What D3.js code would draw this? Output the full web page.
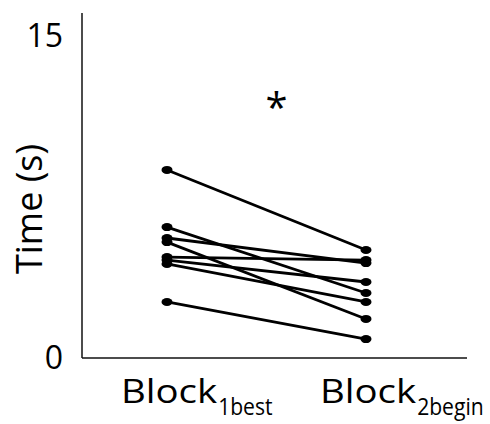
<!DOCTYPE html>
<html>
<head>
<meta charset="utf-8">
<script src="https://cdn.jsdelivr.net/npm/d3@7"></script>
<style>
  body { margin: 0; background: #fff; }
  text { font-family: "Open Sans", sans-serif; fill: #000; }
</style>
</head>
<body>
<div id="chart"></div>
<script>
// Data
const categories = ["Block1best", "Block2begin"];
const labelMain = ["Block", "Block"];
const labelSub = ["1best", "2begin"];
const block1best = [8.76, 6.10, 5.59, 5.40, 4.70, 4.56, 4.38, 2.61];
const block2begin = [5.03, 3.03, 4.42, 1.82, 4.56, 3.54, 2.61, 0.88];
const yTicks = [0, 15];
const yLabel = "Time (s)";
const sigMark = "*";

const width = 490, height = 424;

const svg = d3.select("#chart")
    .append("svg")
    .attr("width", width)
    .attr("height", height);

// scales
const x = d3.scalePoint().domain(categories).range([167, 366]);
const y = d3.scaleLinear().domain([0, 15]).range([358, 36]);
const axisX = 82, axisRight = 467;

// y axis (ticks only, line drawn by hand so it runs past 15)
const yAxis = svg.append("g")
    .attr("transform", `translate(${axisX},0)`)
    .call(d3.axisLeft(y).tickValues(yTicks).tickSize(0).tickPadding(19));
yAxis.select(".domain").remove();
yAxis.selectAll("text")
    .style("font-family", "'Open Sans', sans-serif")
    .style("font-size", "32px")
    .attr("fill", "#000");

svg.append("line")
    .attr("x1", axisX).attr("x2", axisX)
    .attr("y1", y(0)).attr("y2", y.range()[1] - 23)
    .attr("stroke", "#111").attr("stroke-width", 1.5);
svg.append("line")
    .attr("x1", axisX).attr("x2", axisRight)
    .attr("y1", y(0)).attr("y2", y(0))
    .attr("stroke", "#111").attr("stroke-width", 1.5);

// y label
svg.append("text")
    .attr("transform", `translate(42,${(y(0) + y(15)) / 2 + 12}) rotate(-90)`)
    .attr("text-anchor", "middle")
    .style("font-size", "37px")
    .attr("textLength", 130)
    .attr("lengthAdjust", "spacingAndGlyphs")
    .text(yLabel);

// x category labels: "Block" + subscript (squeezed/stretched with a scale transform)
categories.forEach((c, i) => {
    const start = x(c) - 46;
    const main = svg.append("text")
        .attr("transform", `translate(${start},403) scale(1.2,1)`)
        .style("font-size", "32px")
        .text(labelMain[i]);
    const mainLen = main.node().getComputedTextLength() * 1.2;

    const subX = start + mainLen + 1;
    const sub = svg.append("text")
        .style("font-size", "24px")
        .text(labelSub[i]);
    const natural = sub.node().getComputedTextLength();
    const sx = Math.min(0.88, (width - 4 - subX) / natural);
    sub.attr("transform", `translate(${subX},415) scale(${sx},1)`);
});

// paired lines
const pairs = block1best.map((v, i) => [
    { c: categories[0], v: v },
    { c: categories[1], v: block2begin[i] }
]);

const line = d3.line()
    .x(d => x(d.c))
    .y(d => y(d.v));

svg.append("g")
    .selectAll("path")
    .data(pairs)
    .join("path")
    .attr("d", line)
    .attr("fill", "none")
    .attr("stroke", "#000")
    .attr("stroke-width", 2.8);

// points
svg.append("g")
    .selectAll("ellipse")
    .data(pairs.flat())
    .join("ellipse")
    .attr("cx", d => x(d.c))
    .attr("cy", d => y(d.v))
    .attr("rx", 5.5)
    .attr("ry", 4)
    .attr("fill", "#000");

// significance star
svg.append("text")
    .attr("x", (x(categories[0]) + x(categories[1])) / 2 + 10)
    .attr("y", y(12) + 22)
    .attr("text-anchor", "middle")
    .style("font-size", "40px")
    .text(sigMark);
</script>
</body>
</html>
